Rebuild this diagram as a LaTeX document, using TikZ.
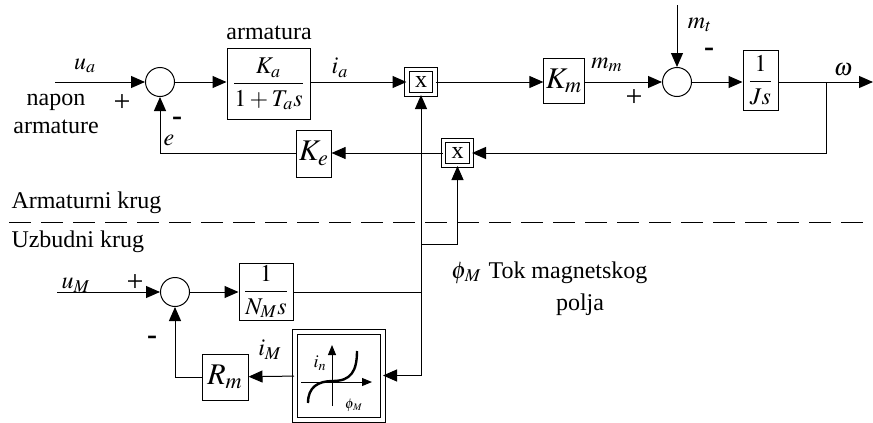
\documentclass[tikz,border=0pt]{standalone}
\usepackage{mathptmx}
\usepackage[no-math]{fontspec}
\setmainfont{Liberation Serif}
\usetikzlibrary{arrows.meta}

\begin{document}
\begin{tikzpicture}[x=0.5pt, y=-0.5pt, line width=0.5pt,
    font=\fontsize{12}{14}\selectfont,
    blk/.style={draw, inner sep=1pt},
    sumnode/.style={draw, circle, minimum size=14.5pt, inner sep=0pt},
    mult/.style={draw, double, double distance=1.7pt, minimum width=14pt, minimum height=12.5pt, inner sep=0pt},
    minus/.style={font=\fontsize{15}{15}\selectfont\bfseries, inner sep=0pt},
    plus/.style={font=\fontsize{15}{15}\selectfont, inner sep=0pt},
    arr/.style={-{Triangle[length=7pt,width=6pt]}},
    arrs/.style={-{Triangle[length=5pt,width=4pt]}}]

    \useasboundingbox (0,0) rectangle (873,423);

    % Armaturni krug
    \node[sumnode] (sa) at (160,82) {};
    \node[blk, minimum width=41.5pt, minimum height=35.5pt] (ka) at (268.5,84) {$\displaystyle\frac{K_a}{1+T_a s}$};
    \node[mult] (xa) at (421,82) {x};
    \node[blk, minimum width=20pt, minimum height=22.5pt] (km) at (564,81) {\fontsize{15}{15}\selectfont$K_m$};
    \node[sumnode] (sb) at (677,82) {};
    \node[blk, minimum width=17.5pt, minimum height=30pt] (js) at (760.5,80) {$\displaystyle\frac{1}{Js}$};
    \node[mult] (xb) at (457.5,153) {x};
    \node[blk, minimum width=17pt, minimum height=23.5pt] (ke) at (314,153.5) {\fontsize{15}{15}\selectfont$K_e$};
    \coordinate (ua) at (55,82);
    \coordinate (mt) at (677,5);
    \coordinate (om) at (873,82);
    \coordinate (wb) at (826,82);

    % Uzbudni krug
    \node[sumnode] (sc) at (175,292) {};
    \node[blk, minimum width=27pt, minimum height=28.5pt] (nm) at (266,291.5) {$\displaystyle\frac{1}{N_M s}$};
    \node[blk, minimum size=23pt] (rm) at (225,377) {\fontsize{15}{15}\selectfont$R_m$};
    \node[draw, double, double distance=2pt, minimum size=44pt, inner sep=0pt] (nl) at (338.5,375.5) {};
    \coordinate (um) at (57,292);
    \coordinate (phi) at (421,292);
    \coordinate (br) at (421,244);

    % Connectors
    \draw[arr] (ua) -- (sa);
    \draw[arr] (sa) -- (ka.west |- sa);
    \draw[arr] (ka.east |- xa) -- (xa);
    \draw[arr] (xa) -- (km.west |- xa);
    \draw[arr] (km.east |- sb) -- (sb);
    \draw[arr] (mt) -- (sb);
    \draw[arr] (sb) -- (js.west |- sb);
    \draw[arr] (js.east |- om) -- (om);
    \draw[arr] (wb) |- (xb);
    \draw[arr] (xb) -- (ke.east |- xb);
    \draw[arr] (ke.west |- xb) -| (sa);
    \draw[arr] (um) -- (sc);
    \draw[arr] (sc) -- (nm.west |- sc);
    \draw (nm.east |- phi) -- (phi);
    \draw[arr] (phi) -- (xa);
    \draw[arr] (phi) |- (nl);
    \draw[arr] (br) -| (xb);
    \draw[arr] (nl) -- (rm);
    \draw[arr] (rm) -| (sc);

    % Nonlinearity
    \draw[arrs] (301,382) -- (372,382);
    \draw[arrs] (332,406) -- (332,345);
    \draw[line width=1.2pt] (308,403) .. controls (308,387) and (318,381) .. (333,381)
        .. controls (351,381) and (357,371) .. (357,351);
    \node at (320,363) {\small$i_n$};
    \node at (354,405) {\scriptsize$\phi_{\mkern1mu M}$};

    % Labels
    \node at (85,66) {$u_a$};
    \node[align=center] at (56,114) {napon\\armature};
    \node[plus] at (122,103) {+};
    \node[minus] at (177,121) {-};
    \node at (169,140) {$e$};
    \node at (269,33) {armatura};
    \node at (340,68) {$i_a$};
    \node at (607,65) {$m_m$};
    \node[plus] at (634,98) {+};
    \node at (700,25) {$m_t$};
    \node[minus] at (709,52) {-};
    \node at (843,70) {$\omega$};
    \node at (76,285) {$u_M$};
    \node[plus] at (135,283) {+};
    \node[minus] at (152,340) {-};
    \node at (270,350) {$i_M$};
    \node[anchor=east, inner sep=1pt] (fm) at (484,273) {$\phi_{\mkern1mu M}$};
    \node[anchor=west, inner sep=1pt] (tok) at (486,273) {Tok magnetskog};
    \node at (580,305) {polja};

    % Granica
    \node[right, inner sep=0pt] at (11,203) {Armaturni krug};
    \draw[dash pattern=on 11pt off 5pt] (9,222) -- (873,222);
    \node[right, inner sep=0pt] at (11,242) {Uzbudni krug};

\end{tikzpicture}
\end{document}
